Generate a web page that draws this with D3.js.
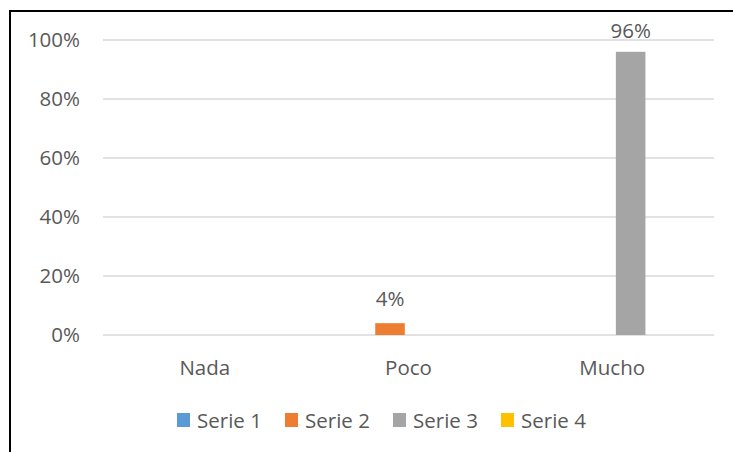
<!DOCTYPE html>
<html>
<head>
<meta charset="utf-8">
<script src="https://d3js.org/d3.v7.min.js"></script>
<style>
  body { margin: 0; background: #fff; }
  text { font-family: "Open Sans", sans-serif; fill: #595959; }
</style>
</head>
<body>
<svg id="chart" width="733" height="452"></svg>
<script>
// chart data
var categories = ["Nada", "Poco", "Mucho"];
var seriesNames = ["Serie 1", "Serie 2", "Serie 3", "Serie 4"];
var seriesColors = ["#5b9bd5", "#ed7d31", "#a5a5a5", "#ffc000"];
// one array per series, values in % (null = no bar)
var serie1 = [null, null, null];
var serie2 = [null, 4, null];
var serie3 = [null, null, 96];
var serie4 = [null, null, null];
var yTicks = [0, 20, 40, 60, 80, 100];

var seriesValues = [serie1, serie2, serie3, serie4];

var svg = d3.select("#chart");

// outer frame (only top and left edges are visible in the picture)
svg.append("rect")
  .attr("x", 10).attr("y", 11)
  .attr("width", 760).attr("height", 480)
  .attr("fill", "none")
  .attr("stroke", "#000")
  .attr("stroke-width", 2);

var plotLeft = 103, plotRight = 714, plotTop = 40, plotBottom = 335;
var fontSize = 20.5;

var x0 = d3.scaleBand().domain(categories).range([plotLeft, plotRight]).padding(0);
var x1 = d3.scaleBand().domain(seriesNames)
  .range([0, x0.bandwidth()])
  .paddingInner(0.2)
  .paddingOuter(0.855);
var y = d3.scaleLinear().domain([0, 100]).range([plotBottom, plotTop]);

// gridlines
svg.append("g")
  .selectAll("line")
  .data(yTicks)
  .join("line")
  .attr("x1", plotLeft).attr("x2", plotRight)
  .attr("y1", function(d){ return y(d); })
  .attr("y2", function(d){ return y(d); })
  .attr("stroke", "#d9d9d9")
  .attr("stroke-width", 1.5);

// y axis labels
svg.append("g")
  .selectAll("text")
  .data(yTicks)
  .join("text")
  .attr("x", 80)
  .attr("y", function(d){ return y(d); })
  .attr("dy", "0.36em")
  .attr("text-anchor", "end")
  .attr("font-size", fontSize)
  .text(function(d){ return d + "%"; });

// x axis labels
svg.append("g")
  .selectAll("text")
  .data(categories)
  .join("text")
  .attr("x", function(d){ return x0(d) + x0.bandwidth() / 2; })
  .attr("y", 375)
  .attr("text-anchor", "middle")
  .attr("font-size", fontSize)
  .text(function(d){ return d; });

// bars, flattened into (category, series, value)
var bars = [];
categories.forEach(function(c, i){
  seriesNames.forEach(function(s, j){
    var v = seriesValues[j][i];
    if (v != null) bars.push({cat: c, series: s, color: seriesColors[j], value: v});
  });
});

svg.append("g")
  .selectAll("rect")
  .data(bars)
  .join("rect")
  .attr("x", function(d){ return x0(d.cat) + x1(d.series); })
  .attr("y", function(d){ return y(d.value); })
  .attr("width", x1.bandwidth())
  .attr("height", function(d){ return y(0) - y(d.value); })
  .attr("fill", function(d){ return d.color; });

// data labels (kept inside the chart area near the top, like Excel does)
svg.append("g")
  .selectAll("text")
  .data(bars)
  .join("text")
  .attr("x", function(d){ return x0(d.cat) + x1(d.series) + x1.bandwidth() / 2; })
  .attr("y", function(d){ return Math.max(y(d.value) - 17, 38); })
  .attr("text-anchor", "middle")
  .attr("font-size", fontSize)
  .text(function(d){ return d.value + "%"; });

// legend
var legend = svg.append("g")
  .selectAll("g")
  .data(seriesNames)
  .join("g")
  .attr("transform", function(d, i){ return "translate(" + (177 + i * 108) + ",413)"; });

legend.append("rect")
  .attr("width", 13).attr("height", 14)
  .attr("fill", function(d, i){ return seriesColors[i]; });

legend.append("text")
  .attr("x", 20)
  .attr("y", 15)
  .attr("font-size", fontSize)
  .text(function(d){ return d; });
</script>
</body>
</html>
